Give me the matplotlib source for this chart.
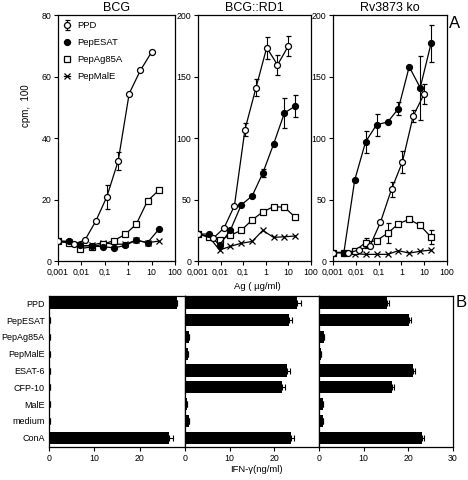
import numpy as np
import matplotlib
matplotlib.use("Agg")
import matplotlib.pyplot as plt
from matplotlib.ticker import FixedLocator, NullLocator

plt.rcParams['font.family'] = ['Liberation Sans', 'DejaVu Sans']

# concentrations (ug/ml)
x_pep = [0.001, 0.003, 0.009, 0.027, 0.082, 0.25, 0.74, 2.2, 6.7, 20]
x_ppd = [0.001, 0.0046, 0.014, 0.041, 0.12, 0.37, 1.1, 3.3, 10]

# panel A : BCG
bcg_ppd = [6.5, 5.6, 6.8, 13, 20.8, 32.5, 54.5, 62, 68]
bcg_ppd_err = [0, 0, 0, 0, 4, 3, 0, 0, 0]
bcg_esat = [6.5, 6.5, 5.1, 4.9, 4.7, 4.3, 5.1, 6.8, 6.0, 10.3]
bcg_ag85 = [6.5, 6.0, 4.1, 4.6, 5.5, 6.7, 8.7, 12, 19.6, 23]
bcg_male = [6.5, 6.2, 4.8, 5.2, 6.0, 5.5, 5.5, 6.8, 6.0, 6.5]

# panel A : BCG::RD1
rd1_ppd = [22, 18.5, 26.7, 45, 107, 141, 173.6, 159.5, 175]
rd1_ppd_err = [0, 0, 0, 0, 5, 7, 9, 8, 8]
rd1_esat = [22, 22, 13, 25, 45.7, 53, 71.6, 95, 120.5, 126]
rd1_esat_err = [0, 0, 0, 0, 0, 0, 3, 0, 12, 9]
rd1_ag85 = [22, 20, 17, 21, 25, 33.5, 40, 44.3, 43.8, 35.7]
rd1_male = [22, 20, 9, 12, 14.5, 16, 25, 19.3, 19.8, 20.4]

# panel A : Rv3873 ko
ko_ppd = [7, 6.5, 9.2, 12, 31.4, 58.5, 80.4, 118, 136]
ko_ppd_err = [0, 0, 0, 0, 0, 6, 9, 5, 8]
ko_esat = [7, 7, 66, 97, 111, 113, 124, 158, 141, 177]
ko_esat_err = [0, 0, 0, 9, 9, 0, 5, 0, 26, 15]
ko_ag85 = [7, 7, 8.4, 15, 16.7, 22.7, 30.3, 34, 29, 19.5]
ko_ag85_err = [0, 0, 0, 4, 0, 8, 0, 0, 0, 5.5]
ko_male = [7, 7, 6, 5.5, 5.5, 5.5, 8.5, 6.5, 8, 9]

# panel B : IFN-gamma
bar_labels = ['PPD', 'PepESAT', 'PepAg85A', 'PepMalE', 'ESAT-6', 'CFP-10', 'MalE', 'medium', 'ConA']
ifn_bcg = [28.3, 0.3, 0.3, 0.3, 0.3, 0.3, 0.3, 0.3, 26.5]
ifn_bcg_err = [0, 0, 0, 0, 0, 0, 0, 0, 0.8]
ifn_rd1 = [25.1, 23.3, 1.0, 0.6, 22.9, 21.8, 0.5, 1.0, 23.7]
ifn_rd1_err = [0.8, 0.7, 0, 0, 0.7, 0.7, 0, 0, 0.8]
ifn_ko = [15.2, 20.1, 1.1, 0.5, 21.0, 16.3, 1.0, 1.0, 23.0]
ifn_ko_err = [0.5, 0.6, 0, 0, 0.6, 0.5, 0, 0, 0.6]

xticks = [0.001, 0.01, 0.1, 1, 10, 100]
xticklabels = ['0,001', '0,01', '0,1', '1', '10', '100']

TICK_FS = 6.3

fig = plt.figure(figsize=(4.68, 4.8), dpi=100)


def line_panel(ax, ppd, ppd_err, esat, esat_err, ag85, ag85_err, male, ymax, yticks, title):
    kw = dict(color='black', lw=0.9, ms=4.3, mew=0.9, capsize=1.8, elinewidth=0.8, capthick=0.8)
    ax.errorbar(x_pep, male, marker='x', label='PepMalE', zorder=2, **kw)
    ax.errorbar(x_pep, ag85, yerr=ag85_err, marker='s', mfc='white', ms=4.0, mew=0.9,
                color='black', lw=0.9, capsize=1.8, elinewidth=0.8, capthick=0.8,
                label='PepAg85A', zorder=3)
    ax.errorbar(x_pep, esat, yerr=esat_err, marker='o', mfc='black', label='PepESAT', zorder=4, **kw)
    ax.errorbar(x_ppd, ppd, yerr=ppd_err, marker='o', mfc='white', label='PPD', zorder=5, **kw)
    ax.set_xscale('log')
    ax.set_xlim(0.001, 100)
    ax.set_ylim(0, ymax)
    ax.xaxis.set_major_locator(FixedLocator(xticks))
    ax.xaxis.set_minor_locator(NullLocator())
    ax.set_xticklabels(xticklabels)
    ax.set_yticks(yticks)
    ax.tick_params(axis='both', direction='out', length=3, width=0.8, labelsize=TICK_FS, pad=2)
    for s in ax.spines.values():
        s.set_linewidth(0.9)
    ax.set_title(title, fontsize=9, pad=3)


ax1 = fig.add_axes([0.124, 0.456, 0.250, 0.5125])
line_panel(ax1, bcg_ppd, bcg_ppd_err, bcg_esat, None, bcg_ag85, None, bcg_male,
           80, [0, 20, 40, 60, 80], 'BCG')
ax1.set_ylabel('cpm,  100', fontsize=7)
ax1.yaxis.set_label_coords(-0.23, 0.63)
h, l = ax1.get_legend_handles_labels()
order = [3, 2, 1, 0]
ax1.legend([h[i] for i in order], [l[i] for i in order], loc='upper left', frameon=False,
           fontsize=6.8, handlelength=0.6, handletextpad=0.8, labelspacing=0.85,
           borderaxespad=0.25)

ax2 = fig.add_axes([0.423, 0.456, 0.2415, 0.5125])
line_panel(ax2, rd1_ppd, rd1_ppd_err, rd1_esat, rd1_esat_err, rd1_ag85, None, rd1_male,
           200, [0, 50, 100, 150, 200], 'BCG::RD1')

ax3 = fig.add_axes([0.7115, 0.456, 0.2436, 0.5125])
line_panel(ax3, ko_ppd, ko_ppd_err, ko_esat, ko_esat_err, ko_ag85, ko_ag85_err, ko_male,
           200, [0, 50, 100, 150, 200], 'Rv3873 ko')

fig.text(0.549, 0.404, 'Ag ( µg/ml)', fontsize=6.8, ha='center', va='center')
fig.text(0.972, 0.951, 'A', fontsize=12, ha='center', va='center')

# bar panels
ypos = np.arange(len(bar_labels))
bar_data = [(ifn_bcg, ifn_bcg_err), (ifn_rd1, ifn_rd1_err), (ifn_ko, ifn_ko_err)]
lefts = [0.1047, 0.3953, 0.6816]
widths = [0.2906, 0.2863, 0.2863]
for k, (vals, errs) in enumerate(bar_data):
    ax = fig.add_axes([lefts[k], 0.069, widths[k], 0.3146])
    ax.barh(ypos, vals, height=0.72, color='black', zorder=2)
    ax.errorbar(vals, ypos, xerr=[[0] * len(errs), errs], fmt='none', ecolor='black',
                elinewidth=0.8, capsize=2, capthick=0.8, zorder=3)
    ax.set_xlim(0, 30)
    ax.set_ylim(8.55, -0.45)
    if k < 2:
        ax.set_xticks([0, 10, 20])
    else:
        ax.set_xticks([0, 10, 20, 30])
    ax.set_yticks(ypos)
    if k == 0:
        ax.set_yticklabels(bar_labels)
    else:
        ax.set_yticklabels([])
    ax.tick_params(axis='y', length=0, pad=3, labelsize=6.5)
    ax.tick_params(axis='x', direction='out', length=3, width=0.8, labelsize=TICK_FS, pad=2)
    for s in ax.spines.values():
        s.set_linewidth(0.9)

fig.text(0.548, 0.021, 'IFN-γ(ng/ml)', fontsize=6.8, ha='center', va='center')
fig.text(0.986, 0.369, 'B', fontsize=12, ha='center', va='center')

fig.savefig('out.png', dpi=100)
